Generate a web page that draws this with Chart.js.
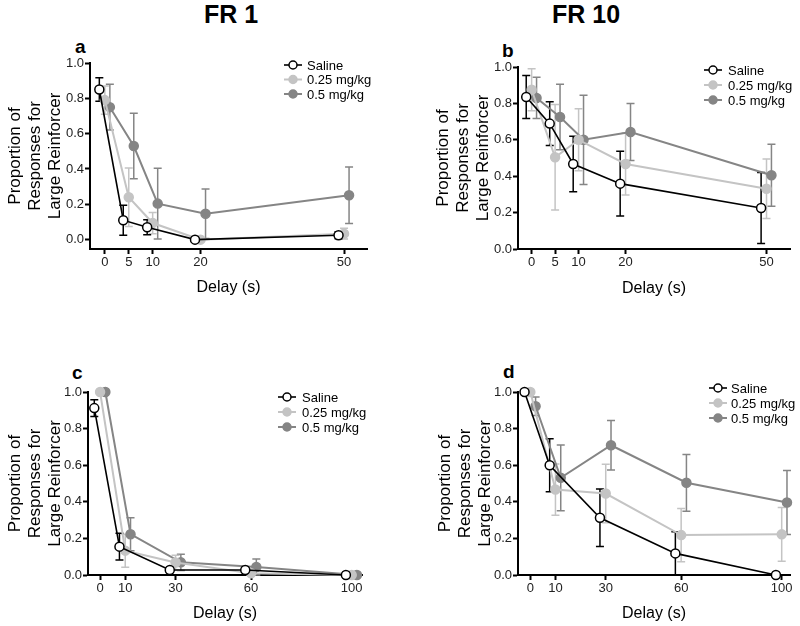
<!DOCTYPE html>
<html>
<head>
<meta charset="utf-8">
<script src="https://cdn.jsdelivr.net/npm/chart.js@4.4.1/dist/chart.umd.min.js"></script>
<style>
  html, body { margin: 0; padding: 0; background: #fff; }
  #fig { position: relative; width: 800px; height: 626px; font-family: "Liberation Sans", Arial, sans-serif; color: #000; }
  .panel { position: absolute; width: 400px; height: 313px; }
  .hdr { position: absolute; top: 2px; font-weight: bold; font-size: 25px; line-height: 25px; transform: translateX(-50%); }
  .tag { position: absolute; font-weight: bold; font-size: 19px; line-height: 19px; }
</style>
</head>
<body>
<div id="fig">
  <div class="hdr" style="left:231px">FR 1</div>
  <div class="hdr" style="left:586px">FR 10</div>
  <div class="tag" style="left:75px;top:37px">a</div>
  <div class="tag" style="left:502px;top:41px">b</div>
  <div class="tag" style="left:72px;top:363px">c</div>
  <div class="tag" style="left:503px;top:362px">d</div>
  <canvas id="pa" class="panel" width="400" height="313" style="left:0;top:0"></canvas>
  <canvas id="pb" class="panel" width="400" height="313" style="left:400px;top:0"></canvas>
  <canvas id="pc" class="panel" width="400" height="313" style="left:0;top:313px"></canvas>
  <canvas id="pd" class="panel" width="400" height="313" style="left:400px;top:313px"></canvas>
</div>
<script>
// ── Data ────────────────────────────────────────────────────────
const SERIES = ['Saline', '0.25 mg/kg', '0.5 mg/kg'];
const DELAYS_TOP = [0, 5, 10, 20, 50];
const DELAYS_BOTTOM = [0, 10, 30, 60, 100];
const Y_TICKS = [0, 0.2, 0.4, 0.6, 0.8, 1.0];
const X_TITLE = 'Delay (s)';
const Y_TITLE = ['Proportion of', 'Responses for', 'Large Reinforcer'];

// panel a  (FR 1, short delays)
const A_SALINE     = [0.85, 0.11, 0.07, 0.00, 0.025];
const A_SALINE_SEM = [0.066, 0.085, 0.043, 0, 0.02];
const A_LOW        = [0.79, 0.24, 0.094, 0.00, 0.034];
const A_LOW_SEM    = [0.08, 0.165, 0.06, 0, 0.03];
const A_HIGH       = [0.75, 0.53, 0.204, 0.147, 0.251];
const A_HIGH_SEM   = [0.13, 0.185, 0.2, 0.14, 0.16];

// panel b  (FR 10, short delays)
const B_SALINE     = [0.835, 0.689, 0.467, 0.359, 0.225];
const B_SALINE_SEM = [0.118, 0.12, 0.153, 0.178, 0.195];
const B_LOW        = [0.875, 0.504, 0.60, 0.467, 0.331];
const B_LOW_SEM    = [0.115, 0.29, 0.17, 0.17, 0.163];
const B_HIGH       = [0.83, 0.725, 0.60, 0.643, 0.405];
const B_HIGH_SEM   = [0.113, 0.18, 0.245, 0.157, 0.17];

// panel c  (FR 1, long delays)
const C_SALINE     = [0.912, 0.155, 0.027, 0.027, 0.0];
const C_SALINE_SEM = [0.046, 0.073, 0.01, 0.01, 0];
const C_LOW        = [1.0, 0.133, 0.068, 0.01, 0.0];
const C_LOW_SEM    = [0, 0.09, 0.04, 0.01, 0];
const C_HIGH       = [1.0, 0.223, 0.069, 0.044, 0.0];
const C_HIGH_SEM   = [0, 0.09, 0.044, 0.044, 0];

// panel d  (FR 10, long delays)
const D_SALINE     = [1.0, 0.6, 0.313, 0.118, 0.0];
const D_SALINE_SEM = [0, 0.145, 0.157, 0.118, 0];
const D_LOW        = [1.0, 0.467, 0.445, 0.218, 0.222];
const D_LOW_SEM    = [0, 0.14, 0.16, 0.145, 0.147];
const D_HIGH       = [0.922, 0.531, 0.709, 0.504, 0.396];
const D_HIGH_SEM   = [0.05, 0.18, 0.135, 0.155, 0.175];

// ── Styles ──────────────────────────────────────────────────────
const FONT = '"Liberation Sans", Arial, sans-serif';
const LINE_COLORS = ['#000000', '#c4c4c4', '#858585'];
const FILL_COLORS = ['#ffffff', '#c4c4c4', '#858585'];
const LINE_WIDTHS = [1.6, 2, 2];
const DODGE = [-0.023, 0, 0.021];   // horizontal offset, fraction of the longest delay

// ── Error bars drawn under the points ───────────────────────────
const errorBars = {
  id: 'errorBars',
  beforeDatasetsDraw(chart) {
    const ctx = chart.ctx, xs = chart.scales.x, ys = chart.scales.y;
    for (let i = chart.data.datasets.length - 1; i >= 0; i--) {
      const ds = chart.data.datasets[i];
      ctx.save();
      ctx.strokeStyle = ds.borderColor;
      ctx.lineWidth = 1.5;
      ds.data.forEach(function (p) {
        if (!p.sem) return;
        const px = xs.getPixelForValue(p.x);
        const top = ys.getPixelForValue(p.y + p.sem);
        const bot = ys.getPixelForValue(Math.max(p.y - p.sem, ys.min));
        ctx.beginPath();
        ctx.moveTo(px, top); ctx.lineTo(px, bot);
        ctx.moveTo(px - 4, top); ctx.lineTo(px + 4, top);
        ctx.moveTo(px - 4, bot); ctx.lineTo(px + 4, bot);
        ctx.stroke();
      });
      ctx.restore();
    }
  }
};

// ── Legend with line + marker, placed inside the plot ──────────
const sideLegend = {
  id: 'sideLegend',
  afterDatasetsDraw(chart, args, opts) {
    const ctx = chart.ctx;
    chart.data.datasets.forEach(function (ds, i) {
      const y = opts.y + i * opts.dy;
      ctx.save();
      ctx.strokeStyle = ds.borderColor;
      ctx.lineWidth = ds.borderWidth;
      ctx.beginPath();
      ctx.moveTo(opts.x - 9, y); ctx.lineTo(opts.x + 9, y);
      ctx.stroke();
      ctx.beginPath();
      ctx.arc(opts.x, y, 4, 0, Math.PI * 2);
      ctx.fillStyle = ds.pointBackgroundColor;
      ctx.fill();
      ctx.lineWidth = 1.5;
      ctx.stroke();
      ctx.fillStyle = '#000';
      ctx.font = '13px ' + FONT;
      ctx.textBaseline = 'middle';
      ctx.fillText(ds.label, opts.textX, y + 1);
      ctx.restore();
    });
  }
};

function makePanel(id, p) {
  const maxDelay = p.delays[p.delays.length - 1];
  const datasets = p.series.map(function (s, i) {
    return {
      label: SERIES[i],
      data: p.delays.map(function (d, k) {
        return { x: d + DODGE[i] * maxDelay, y: s.mean[k], sem: s.sem[k] };
      }),
      showLine: true,
      borderColor: LINE_COLORS[i],
      borderWidth: LINE_WIDTHS[i],
      pointBackgroundColor: FILL_COLORS[i],
      pointBorderColor: LINE_COLORS[i],
      pointBorderWidth: 1.5,
      pointRadius: 4.5,
      tension: 0,
      clip: false
    };
  });

  new Chart(document.getElementById(id), {
    type: 'scatter',
    data: { datasets: datasets },
    plugins: [errorBars, sideLegend],
    options: {
      responsive: false,
      animation: false,
      layout: { padding: { left: p.padLeft, top: p.top, right: 400 - p.right, bottom: 0 } },
      plugins: {
        legend: { display: false },
        tooltip: { enabled: false },
        sideLegend: p.legend
      },
      scales: {
        x: {
          type: 'linear',
          min: p.xMin, max: p.xMax,
          afterBuildTicks: function (s) { s.ticks = p.delays.map(function (v) { return { value: v }; }); },
          afterFit: function (s) { s.height = 313 - p.bottom; },
          ticks: { font: { size: 13, family: FONT }, color: '#222', padding: 1, maxRotation: 0 },
          grid: { drawOnChartArea: false, tickLength: 5, tickWidth: 2, tickColor: '#000' },
          border: { color: '#000', width: 2 },
          title: { display: true, text: X_TITLE, color: '#000', font: { size: 16, family: FONT }, padding: { top: 0, bottom: p.xTitlePad } }
        },
        y: {
          min: p.yMin, max: 1,
          afterBuildTicks: function (s) { s.ticks = Y_TICKS.map(function (v) { return { value: v }; }); },
          afterFit: function (s) { s.width = p.left - p.padLeft; },
          ticks: { font: { size: 13, family: FONT }, color: '#222', padding: 1,
                   callback: function (v) { return v.toFixed(1); } },
          grid: { drawOnChartArea: false, tickLength: 5, tickWidth: 2, tickColor: '#000' },
          border: { color: '#000', width: 2 },
          title: { display: true, text: Y_TITLE, color: '#000', font: { size: 17, family: FONT, lineHeight: '20px' }, padding: { top: 5, bottom: 0 } }
        }
      }
    }
  });
}

makePanel('pa', {
  delays: DELAYS_TOP,
  series: [{ mean: A_SALINE, sem: A_SALINE_SEM }, { mean: A_LOW, sem: A_LOW_SEM }, { mean: A_HIGH, sem: A_HIGH_SEM }],
  padLeft: 0, left: 90, right: 367, top: 63, bottom: 249,
  xMin: -3.1, xMax: 54.8, yMin: -0.053, xTitlePad: 16,
  legend: { x: 293, textX: 307, y: 65, dy: 14.5 }
});
makePanel('pb', {
  delays: DELAYS_TOP,
  series: [{ mean: B_SALINE, sem: B_SALINE_SEM }, { mean: B_LOW, sem: B_LOW_SEM }, { mean: B_HIGH, sem: B_HIGH_SEM }],
  padLeft: 28, left: 118, right: 390, top: 67, bottom: 249,
  xMin: -2.9, xMax: 55, yMin: 0, xTitlePad: 15,
  legend: { x: 313, textX: 328, y: 70, dy: 15 }
});
makePanel('pc', {
  delays: DELAYS_BOTTOM,
  series: [{ mean: C_SALINE, sem: C_SALINE_SEM }, { mean: C_LOW, sem: C_LOW_SEM }, { mean: C_HIGH, sem: C_HIGH_SEM }],
  padLeft: 0, left: 88, right: 362, top: 79, bottom: 262,
  xMin: -4.8, xMax: 104.1, yMin: 0, xTitlePad: 3,
  legend: { x: 287, textX: 302, y: 84, dy: 15 }
});
makePanel('pd', {
  delays: DELAYS_BOTTOM,
  series: [{ mean: D_SALINE, sem: D_SALINE_SEM }, { mean: D_LOW, sem: D_LOW_SEM }, { mean: D_HIGH, sem: D_HIGH_SEM }],
  padLeft: 30, left: 118, right: 390, top: 79, bottom: 262,
  xMin: -4.9, xMax: 103.3, yMin: 0, xTitlePad: 3,
  legend: { x: 318, textX: 331, y: 75, dy: 15 }
});
</script>
</body>
</html>
